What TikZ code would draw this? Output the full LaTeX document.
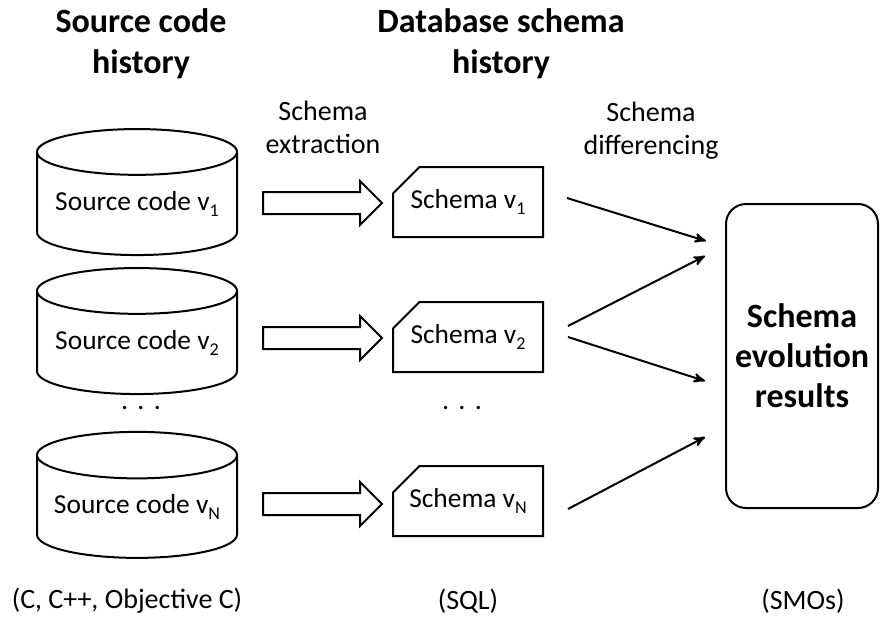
\documentclass[tikz,border=0pt]{standalone}
\usepackage{fontspec}
\setmainfont{Carlito}
\usetikzlibrary{arrows, shapes.geometric, shapes.misc, shapes.arrows, positioning}
\newcommand{\vsub}[1]{\raisebox{-0.45ex}{\fontsize{9}{10}\selectfont #1}}

\begin{document}
\begin{tikzpicture}[x=0.5pt,y=-0.5pt,>=stealth',line width=1pt,
    srcdb/.style={cylinder, shape border rotate=90, draw, aspect=0.28,
      minimum width=100pt, minimum height=63pt, inner sep=0pt,
      font=\fontsize{13.7}{16}\selectfont},
    schemadoc/.style={chamfered rectangle, chamfered rectangle corners=north west,
      chamfered rectangle xsep=15pt, chamfered rectangle ysep=7pt, draw,
      minimum width=75pt, minimum height=35pt, inner sep=0pt,
      font=\fontsize{13.7}{16}\selectfont},
    fatarrow/.style={single arrow, draw, minimum height=59.5pt, inner ysep=5pt,
      inner xsep=0pt, single arrow head extend=5.5pt, single arrow head indent=0pt},
    resultbox/.style={rectangle, rounded corners=10pt, draw, minimum width=76pt,
      minimum height=152pt, align=center, font=\bfseries\fontsize{17}{20}\selectfont},
    heading/.style={font=\bfseries\fontsize{17}{20.5}\selectfont, align=center},
    lbl/.style={font=\fontsize{14}{16.5}\selectfont, align=center}]
  \useasboundingbox (0,0) rectangle (881,631);

% column headings
  \node[heading] (hsrc) at (141,44) {Source code\\history};
  \node[heading] (hdb)  at (501,44) {Database schema\\history};
  \node[lbl] (lextr) at (323,127) {Schema\\extraction};
  \node[lbl] (ldiff) at (651,131) {Schema\\differencing};

% define the source code versions
  \node[srcdb] (src1) at (137,204) {Source code v\vsub{1}};
  \node[srcdb] (src2) at (137,343) {Source code v\vsub{2}};
  \node[srcdb] (srcN) at (137,507) {Source code v\vsub{N}};
  \node[lbl]   (dsrc) at (141,408) {.\,\,.\,\,.};

% define the schema versions
  \node[schemadoc] (sch1) at (468,202) {Schema v\vsub{1}};
  \node[schemadoc] (sch2) at (468,337) {Schema v\vsub{2}};
  \node[schemadoc] (schN) at (468,501) {Schema v\vsub{N}};
  \node[lbl]       (dsch) at (462,408) {.\,\,.\,\,.};

% schema extraction
  \node[fatarrow] (ex1) at (317,203) {};
  \node[fatarrow] (ex2) at (317,338) {};
  \node[fatarrow] (exN) at (317,504) {};

% result
  \node[resultbox] (res) at (802,356) {Schema\\evolution\\results};

% define the links
  \coordinate (o1)  at ([xshift=11.5pt,yshift=2pt]sch1.east);
  \coordinate (o2a) at ([xshift=12pt,yshift=5.5pt]sch2.east);
  \coordinate (o2b) at ([xshift=12pt,yshift=0pt]sch2.east);
  \coordinate (oN)  at ([xshift=12pt,yshift=-4pt]schN.east);
  \coordinate (in1) at (706,241);
  \coordinate (in2) at (705,256);
  \coordinate (in3) at (705,381);
  \coordinate (in4) at (705,437);
  \path[->] (o1)  edge (in1)
            (o2a) edge (in2)
            (o2b) edge (in3)
            (oN)  edge (in4);

% languages
  \node[lbl] (lang1) at (127,601) {(C, C++, Objective C)};
  \node[lbl] (lang2) at (468,601) {(SQL)};
  \node[lbl] (lang3) at (803,601) {(SMOs)};
\end{tikzpicture}
\end{document}
